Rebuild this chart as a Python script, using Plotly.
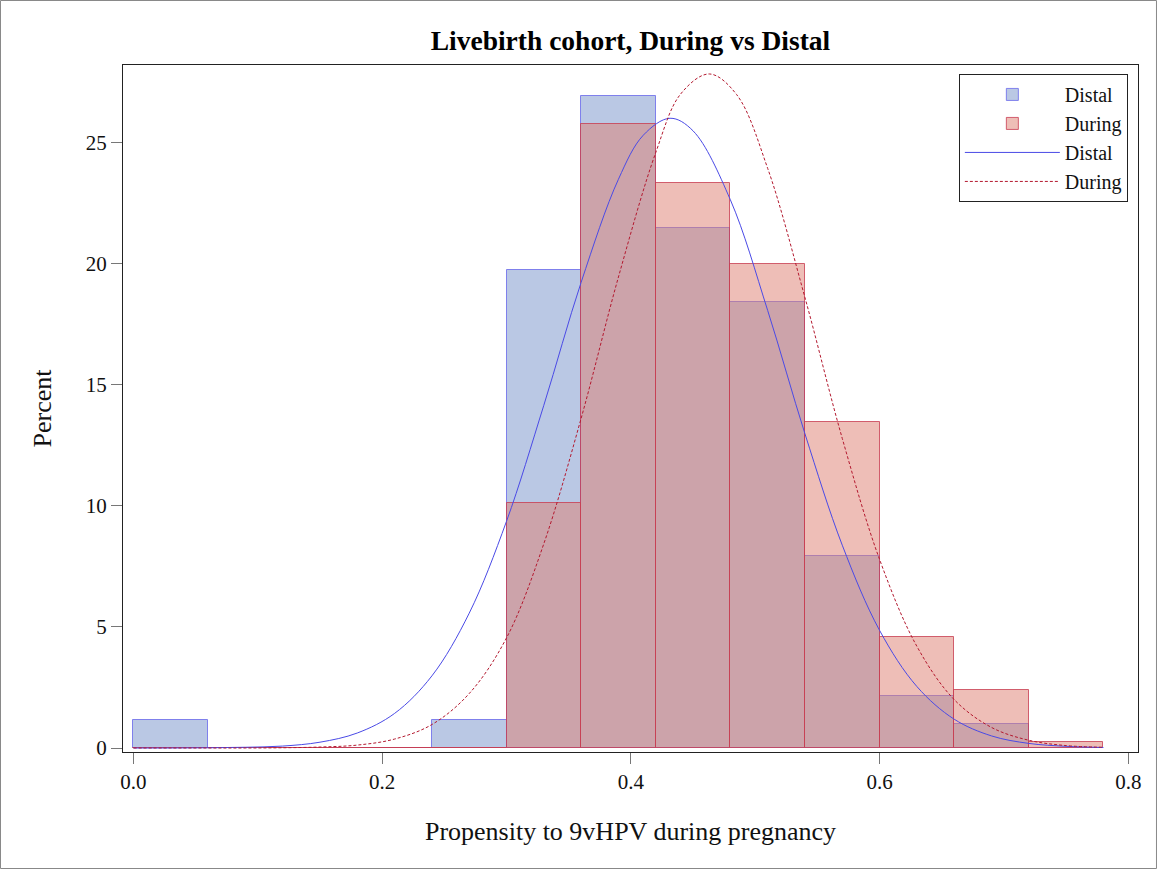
import plotly.graph_objects as go

# Histogram bins (left edges, width 0.06)
bin_left = [0.00, 0.06, 0.12, 0.18, 0.24, 0.30, 0.36, 0.42, 0.48, 0.54, 0.60, 0.66, 0.72]
distal_pct = [1.16, 0.0, 0.0, 0.0, 1.16, 19.74, 26.95, 21.48, 18.42, 7.95, 2.15, 0.99, 0.0]
during_pct = [0.0, 0.0, 0.0, 0.0, 0.0, 10.14, 25.79, 23.34, 19.99, 13.49, 4.59, 2.40, 0.25]
bin_width = 0.06

# Fitted normal curves
distal_x = [0.00, 0.03, 0.06, 0.09, 0.12, 0.15, 0.18, 0.21, 0.24, 0.27, 0.30, 0.33, 0.36,
            0.39, 0.41, 0.4315, 0.45, 0.48, 0.51, 0.54, 0.57, 0.60, 0.63, 0.66, 0.69, 0.72, 0.75, 0.78]
distal_curve = [0.00, 0.00, 0.01, 0.03, 0.08, 0.24, 0.62, 1.43, 2.98, 5.57, 9.37, 14.16, 19.24,
                23.50, 25.32, 26.02, 25.50, 22.65, 18.08, 12.98, 8.38, 4.86, 2.54, 1.19, 0.50, 0.19, 0.07, 0.02]
during_x = [0.00, 0.03, 0.06, 0.09, 0.12, 0.15, 0.18, 0.21, 0.24, 0.27, 0.30, 0.33, 0.36,
            0.39, 0.42, 0.44, 0.463, 0.485, 0.51, 0.54, 0.57, 0.60, 0.63, 0.66, 0.69, 0.72, 0.75, 0.78]
during_curve = [0.00, 0.00, 0.00, 0.00, 0.01, 0.04, 0.12, 0.37, 0.97, 2.25, 4.55, 8.44, 13.62,
                19.46, 24.60, 27.02, 27.85, 27.00, 23.95, 18.61, 12.79, 7.79, 4.20, 2.00, 0.85, 0.32, 0.10, 0.03]

x_ticks = [0.0, 0.2, 0.4, 0.6, 0.8]
y_ticks = [0, 5, 10, 15, 20, 25]

FONT = "Liberation Serif, Times New Roman, serif"

fig = go.Figure()
fig.add_trace(go.Bar(
    x=bin_left, y=distal_pct, width=bin_width, offset=0, name="Distal",
    marker=dict(color="rgba(117,145,201,0.5)", line=dict(color="rgba(110,110,235,0.85)", width=1)),
))
fig.add_trace(go.Bar(
    x=bin_left, y=during_pct, width=bin_width, offset=0, name="During",
    marker=dict(color="rgba(221,125,112,0.5)", line=dict(color="rgba(200,60,80,0.8)", width=1)),
))
fig.add_trace(go.Scatter(
    x=distal_x, y=distal_curve, mode="lines", name="Distal", line_shape="spline",
    line=dict(color="#4a4ae6", width=1),
))
fig.add_trace(go.Scatter(
    x=during_x, y=during_curve, mode="lines", name="During", line_shape="spline",
    line=dict(color="#b3182e", width=1, dash="3px,2px"),
))

axis_common = dict(
    showline=True, linecolor="#222", linewidth=1, mirror=True,
    showgrid=False, zeroline=False, ticks="outside", ticklen=11, tickcolor="#777",
    tickfont=dict(family=FONT, size=21, color="#111"),
)

fig.update_layout(
    width=1157, height=869,
    margin=dict(l=123, r=19, t=65, b=117),
    paper_bgcolor="white", plot_bgcolor="white",
    barmode="overlay", bargap=0,
    title=dict(text="<b>Livebirth cohort, During vs Distal</b>", xref="paper", x=0.5, xanchor="center",
               y=0.954, yanchor="middle", font=dict(family=FONT, size=27.5, color="black")),
    xaxis=dict(range=[-0.0084, 0.8078], tickvals=x_ticks, tickformat=".1f",
               title=dict(text="Propensity to 9vHPV during pregnancy",
                          font=dict(family=FONT, size=26, color="#111"), standoff=28),
               **axis_common),
    yaxis=dict(range=[-0.165, 28.22], tickvals=y_ticks,
               title=dict(text="Percent", font=dict(family=FONT, size=26, color="#111"), standoff=26),
               **axis_common),
    legend=dict(x=0.99, xanchor="right", y=0.987, yanchor="top",
                bordercolor="#222", borderwidth=1, bgcolor="white",
                font=dict(family=FONT, size=20, color="#111"),
                itemwidth=95, tracegroupgap=0),
    showlegend=True,
)

# outer image border
fig.add_shape(type="rect", xref="paper", yref="paper",
              x0=-0.1207, x1=1.0182, y0=-0.1696, y1=1.0939,
              line=dict(color="#888", width=1), fillcolor="rgba(0,0,0,0)", layer="below")

fig.write_html("out.html", config={"displayModeBar": False},
               post_script="document.body.style.margin='0';document.body.style.overflow='hidden';")
